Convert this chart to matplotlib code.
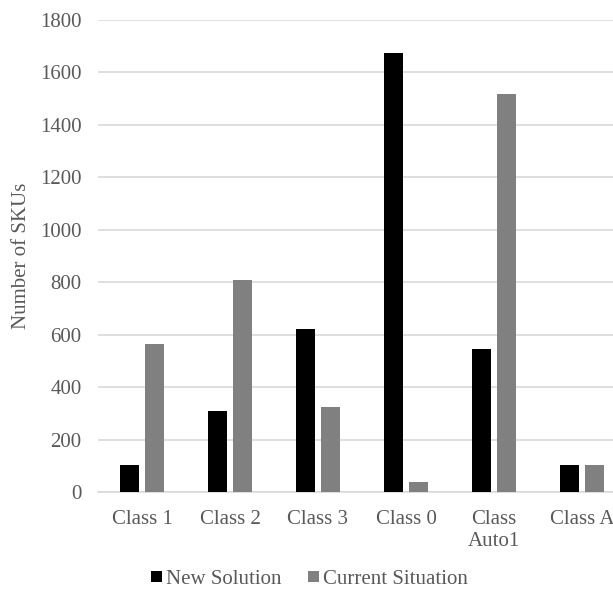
import matplotlib.pyplot as plt
import numpy as np

categories = ["Class 1", "Class 2", "Class 3", "Class 0", "Class\nAuto1", "Class A"]
new_solution = [102, 310, 620, 1671, 546, 104]
current_situation = [564, 810, 323, 38, 1515, 104]

plt.rcParams['font.family'] = 'serif'
plt.rcParams['font.serif'] = ['Liberation Serif', 'Times New Roman', 'DejaVu Serif']
text_color = '#595959'
grid_color = '#d9d9d9'

fig = plt.figure(figsize=(6.13, 6.01), dpi=100)
# axes run a bit past the right edge of the figure
ax = fig.add_axes([0.160, 0.181, 0.861, 0.7865])

x = np.arange(len(categories))
w = 0.22
off = 0.142
ax.bar(x - off, new_solution, w, color='#000000', label='New Solution', zorder=3)
ax.bar(x + off, current_situation, w, color='#808080', label='Current Situation', zorder=3)

ax.set_xlim(-0.5, len(categories) - 0.5)
ax.set_ylim(0, 1800)
ax.set_yticks(np.arange(0, 1801, 200))
ax.set_xticks(x)
ax.set_xticklabels(categories)
ax.yaxis.grid(True, color=grid_color, linewidth=1.2, zorder=0)
ax.set_axisbelow(True)

for side in ['top', 'right', 'left']:
    ax.spines[side].set_visible(False)
ax.spines['bottom'].set_color(grid_color)
ax.spines['bottom'].set_linewidth(1.2)

ax.tick_params(axis='both', length=0, labelsize=15, colors=text_color)
ax.tick_params(axis='y', pad=12)
ax.tick_params(axis='x', pad=13)
ax.set_ylabel('Number of SKUs', fontsize=15, color=text_color, labelpad=6)

leg = fig.legend(loc='center', bbox_to_anchor=(0.505, 0.036), ncol=2, frameon=False,
                 fontsize=15, handlelength=0.5, handleheight=0.5, handletextpad=0.2,
                 columnspacing=1.3)
for t in leg.get_texts():
    t.set_color(text_color)

fig.savefig('out.png', dpi=100)
